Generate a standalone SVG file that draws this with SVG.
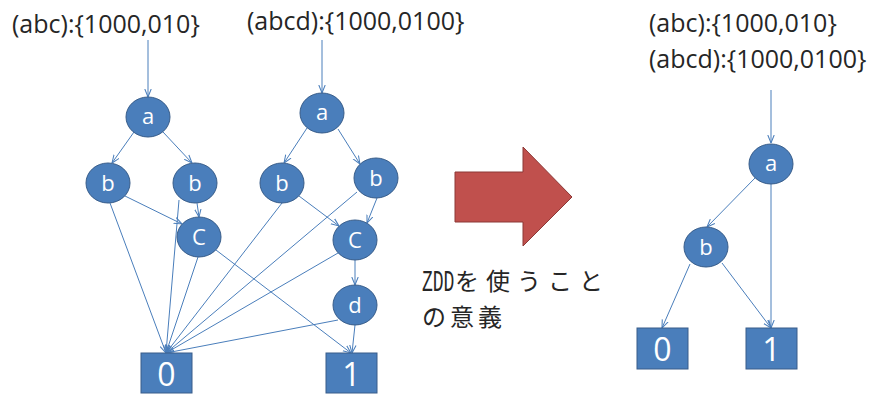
<svg xmlns="http://www.w3.org/2000/svg" width="885" height="394" viewBox="0 0 885 394">
<style>
.lbl{font-family:"Open Sans","Liberation Sans",sans-serif;font-size:25px;fill:#262626}
.nd ellipse,.nd rect{fill:#4A7EBB;stroke:#385D8A;stroke-width:1}
.nt{font-family:"Open Sans","Liberation Sans",sans-serif;font-size:22px;fill:#fff;text-anchor:middle}
.bt{font-family:"Open Sans","Liberation Sans",sans-serif;font-size:32px;fill:#fff;text-anchor:middle}
.e line{stroke:#4A7EBB;stroke-width:1;marker-end:url(#ah)}
.jp{font-family:"Noto Sans CJK JP",sans-serif;font-size:24px;fill:#262626}
.mono{font-family:"Liberation Mono","DejaVu Sans Mono",monospace;font-size:30px;fill:#262626}
</style>
<defs>
<marker id="ah" markerUnits="userSpaceOnUse" markerWidth="8" markerHeight="8" viewBox="0 0 10 10" refX="10" refY="5" orient="auto">
<path d="M0,1 L10,5 L0,9" fill="none" stroke="#4A7EBB" stroke-width="1.3"/>
</marker>
</defs>
<text class="lbl" x="12" y="33">(abc):{1000,010}</text>
<text class="lbl" x="247" y="30">(abcd):{1000,0100}</text>
<text class="lbl" x="649" y="32">(abc):{1000,010}</text>
<text class="lbl" x="649" y="68">(abcd):{1000,0100}</text>
<g class="e" id="connectors">
<line x1="148" y1="40" x2="148" y2="97"/>
<line x1="134" y1="132" x2="112" y2="163"/>
<line x1="163" y1="132" x2="192" y2="163"/>
<line x1="125" y1="196" x2="182" y2="224"/>
<line x1="197" y1="203" x2="199" y2="217"/>
<line x1="110" y1="203" x2="166" y2="353"/>
<line x1="179" y1="200" x2="166" y2="353"/>
<line x1="198" y1="257" x2="166" y2="353"/>
<line x1="216" y1="250" x2="351" y2="353"/>
<line x1="322" y1="40" x2="322" y2="93"/>
<line x1="307" y1="128" x2="284" y2="163"/>
<line x1="338" y1="129" x2="360" y2="164"/>
<line x1="282" y1="203" x2="166" y2="353"/>
<line x1="299" y1="196" x2="339" y2="226"/>
<line x1="357" y1="192" x2="166" y2="353"/>
<line x1="377" y1="198" x2="367" y2="223"/>
<line x1="338" y1="253" x2="166" y2="353"/>
<line x1="355" y1="260" x2="355" y2="285"/>
<line x1="338" y1="320" x2="166" y2="353"/>
<line x1="355" y1="325" x2="352" y2="353"/>
<line x1="771" y1="90" x2="771" y2="143"/>
<line x1="755" y1="178" x2="707" y2="227"/>
<line x1="771" y1="184" x2="771" y2="328"/>
<line x1="690" y1="264" x2="662" y2="328"/>
<line x1="722" y1="263" x2="771" y2="328"/>
</g>
<g class="nd" id="L_a"><ellipse cx="148" cy="117" rx="22" ry="20"/><text class="nt" x="148" y="124">a</text></g>
<g class="nd" id="L_b1"><ellipse cx="108" cy="183" rx="22" ry="20"/><text class="nt" x="108" y="191">b</text></g>
<g class="nd" id="L_b2"><ellipse cx="195" cy="183" rx="22" ry="20"/><text class="nt" x="195" y="191">b</text></g>
<g class="nd" id="L_c"><ellipse cx="199" cy="237" rx="22" ry="20"/><text class="nt" x="199" y="245">C</text></g>
<g class="nd" id="M_a"><ellipse cx="322" cy="113" rx="22" ry="20"/><text class="nt" x="322" y="120">a</text></g>
<g class="nd" id="M_b1"><ellipse cx="282" cy="183" rx="22" ry="20"/><text class="nt" x="282" y="191">b</text></g>
<g class="nd" id="M_b2"><ellipse cx="376" cy="178" rx="22" ry="20"/><text class="nt" x="376" y="186">b</text></g>
<g class="nd" id="M_c"><ellipse cx="355" cy="240" rx="22" ry="20"/><text class="nt" x="355" y="248">C</text></g>
<g class="nd" id="M_d"><ellipse cx="355" cy="305" rx="22" ry="20"/><text class="nt" x="355" y="313">d</text></g>
<g class="nd" id="L_0"><rect x="141" y="353" width="51" height="40"/><text class="bt" x="166.5" y="386">0</text></g>
<g class="nd" id="L_1"><rect x="326" y="353" width="51" height="40"/><text class="bt" x="351.5" y="386">1</text></g>
<g class="nd" id="R_a"><ellipse cx="771" cy="164" rx="22" ry="20"/><text class="nt" x="771" y="171">a</text></g>
<g class="nd" id="R_b"><ellipse cx="706" cy="247" rx="22" ry="20"/><text class="nt" x="706" y="255">b</text></g>
<g class="nd" id="R_0"><rect x="637" y="328" width="51" height="41"/><text class="bt" x="662.5" y="361">0</text></g>
<g class="nd" id="R_1"><rect x="746" y="328" width="51" height="41"/><text class="bt" x="771.5" y="361">1</text></g>
<g id="bigarrow"><polygon points="455,172 523,172 523,147 572,197 523,246 523,222 455,222" fill="#C0504D" stroke="#8C3836" stroke-width="1"/></g>
<text class="mono" transform="translate(422,291) scale(0.6,1)" x="0" y="0">ZDD</text>
<text class="jp" x="455" y="290" letter-spacing="7">を使うこと</text>
<text class="jp" x="422" y="326" letter-spacing="4">の意義</text>
</svg>
